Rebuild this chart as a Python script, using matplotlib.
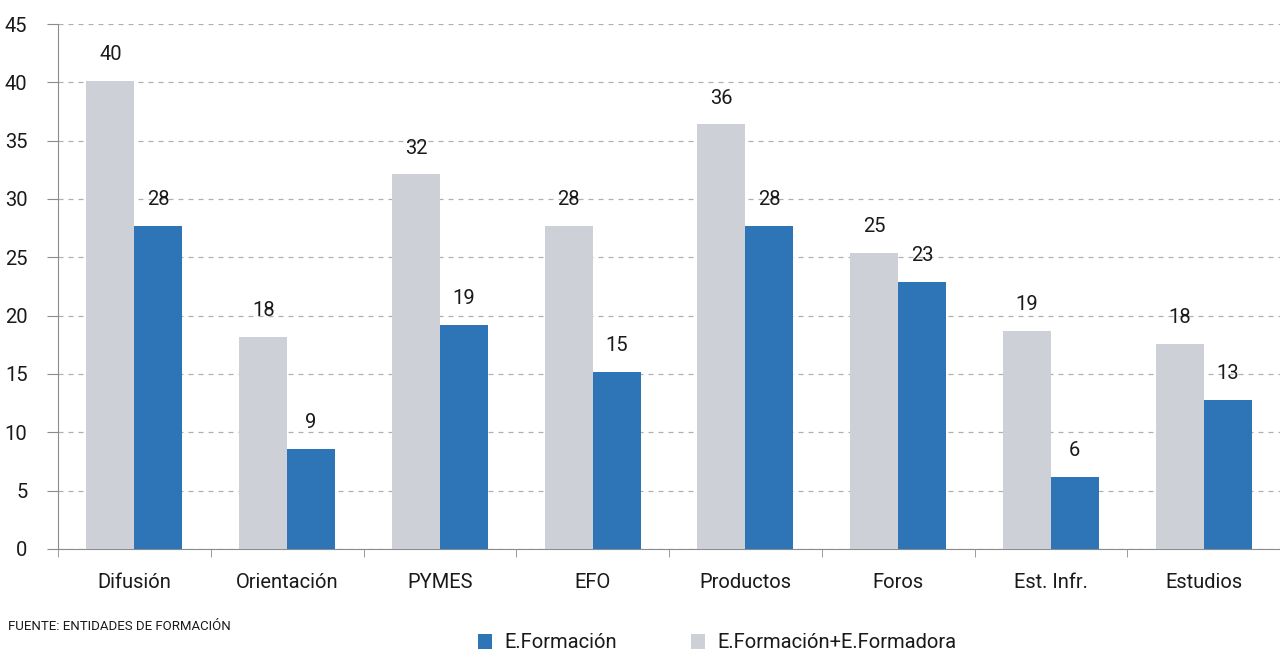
import matplotlib
matplotlib.use("Agg")
import matplotlib.pyplot as plt
import numpy as np
from matplotlib.font_manager import fontManager

categories = ["Difusión", "Orientación", "PYMES", "EFO", "Productos", "Foros", "Est. Infr.", "Estudios"]
formacion_formadora = [40.1, 18.2, 32.1, 27.7, 36.4, 25.4, 18.7, 17.6]
formacion = [27.7, 8.6, 19.2, 15.2, 27.7, 22.9, 6.2, 12.8]
yticks = [0, 5, 10, 15, 20, 25, 30, 35, 40, 45]

names = {f.name for f in fontManager.ttflist}
family = [n for n in ("Liberation Sans Narrow", "Roboto") if n in names] + ["DejaVu Sans"]
plt.rcParams["font.family"] = family

GRAY = "#cdd0d7"
BLUE = "#2e75b8"
TEXT = "#1a1a1a"
AXIS = "#8c8c8c"
FS = 14.5

fig = plt.figure(figsize=(12.8, 6.54), dpi=100)
ax = fig.add_axes([58 / 1280, 1 - 549 / 654, 1222 / 1280, (549 - 24) / 654])

x = np.arange(len(categories))
w = 0.314
b1 = ax.bar(x - w / 2, formacion_formadora, w, color=GRAY, zorder=3)
b2 = ax.bar(x + w / 2, formacion, w, color=BLUE, zorder=3)

for bars, vals in ((b1, formacion_formadora), (b2, formacion)):
    for r, v in zip(bars, vals):
        ax.annotate(f"{v:.0f}", (r.get_x() + r.get_width() / 2, v), xytext=(0, 12),
                    textcoords="offset points", ha="center", va="bottom",
                    fontsize=FS, color=TEXT)

ax.set_xlim(-0.5, len(categories) - 0.5)
ax.set_ylim(0, 45)
ax.set_yticks(yticks)
ax.set_yticklabels([str(t) for t in yticks], fontsize=FS, color=TEXT)
ax.set_xticks(x)
ax.set_xticklabels(categories, fontsize=FS, color=TEXT)
ax.tick_params(axis="x", length=0, pad=17)
ax.tick_params(axis="y", length=8, color=AXIS, pad=14)
# minor ticks mark the category boundaries
ax.set_xticks(np.arange(len(categories) + 1) - 0.5, minor=True)
ax.tick_params(axis="x", which="minor", length=6, color=AXIS, direction="out")

ax.grid(axis="y", linestyle=(0, (4, 4)), color="#b0b0b0", linewidth=0.9, zorder=0)
for s in ("top", "right"):
    ax.spines[s].set_visible(False)
ax.spines["left"].set_color(AXIS)
ax.spines["bottom"].set_color(AXIS)

fig.text(8 / 1280, 1 - 626 / 654, "FUENTE: ENTIDADES DE FORMACIÓN", fontsize=9.5,
         color=TEXT, va="center", ha="left")

# one legend per entry so each sits where the reference puts it
for handle, label, xpos in ((b2, "E.Formación", 478), (b1, "E.Formación+E.Formadora", 691)):
    leg = fig.legend([handle], [label], loc="center left",
                     bbox_to_anchor=(xpos / 1280, 1 - 643 / 654), frameon=False,
                     fontsize=FS, handlelength=0.7, handleheight=0.7,
                     handletextpad=0.6, borderpad=0, borderaxespad=0)
    for t in leg.get_texts():
        t.set_color(TEXT)

fig.savefig("out.png", dpi=100)
